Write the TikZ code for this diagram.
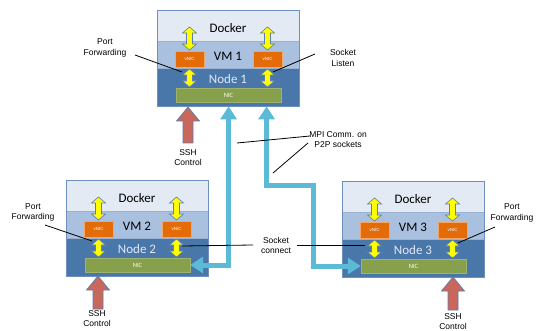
\documentclass[tikz,border=0pt]{standalone}
\usepackage{fontspec}
\setmainfont{Liberation Sans}
\newfontfamily\boxfont{Carlito}
\usetikzlibrary{arrows.meta,calc}
\definecolor{dockfill}{HTML}{E3EAF4}
\definecolor{vmfill}{HTML}{A9C0DE}
\definecolor{nodefill}{HTML}{4A77AA}
\definecolor{edgeblue}{HTML}{6E90BF}
\definecolor{nodetext}{HTML}{E0E8F4}
\definecolor{vnicfill}{HTML}{E36C09}
\definecolor{vnicedge}{HTML}{F2A66A}
\definecolor{nicfill}{HTML}{86A04B}
\definecolor{yellowarrow}{HTML}{FFFF00}
\definecolor{arrowedge}{HTML}{5B7FB0}
\definecolor{sshfill}{HTML}{C9675C}
\definecolor{connblue}{HTML}{5BBAD5}
\tikzset{
  band/.style={draw=edgeblue!70, line width=0.4pt, minimum width=142pt, inner sep=0pt},
  boxlabel/.style={font=\boxfont\fontsize{13}{14}\selectfont, inner sep=0pt},
  vnicbox/.style={draw=vnicedge, line width=0.5pt, fill=vnicfill, minimum width=29pt, minimum height=16pt, inner sep=0pt, font=\fontsize{4.5}{5}\selectfont, text=white},
  nicbox/.style={draw=nicfill!80!white, line width=0.4pt, fill=nicfill, minimum width=105pt, minimum height=13.5pt, inner sep=0pt, font=\boxfont\fontsize{6.5}{7}\selectfont, text=white},
  yarrow/.style={fill=yellowarrow, draw=arrowedge, line width=0.6pt, line join=miter},
  ssharrow/.style={fill=sshfill, draw=arrowedge, line width=0.7pt, line join=miter},
  conn/.style={draw=connblue, line width=5pt, {Triangle[length=13pt,width=16pt]}-{Triangle[length=13pt,width=16pt]}},
  note/.style={align=center, font=\fontsize{8.5}{10.5}\selectfont, inner sep=0pt},
  noteline/.style={draw=black, line width=0.8pt}
}
\newcommand\yellowdouble[3]{%
  \path[yarrow] (#1,#2) -- ++(7,6) -- ++(-4,0) -- (#1+3,#3-6) -- ++(4,0) -- (#1,#3) -- ++(-7,-6) -- ++(4,0) -- (#1-3,#2+6) -- ++(-4,0) -- cycle;}
\newcommand\sshshape[3]{%
  \path[ssharrow] (#1,#2) -- ++(11.5,14) -- ++(-6.5,0) -- (#1+5,#3) -- (#1-5,#3) -- (#1-5,#2+14) -- ++(-6.5,0) -- cycle;}
\newcommand\machine[4]{%
  \begin{scope}[shift={(#2,#3)}]
    \node[band, fill=dockfill, minimum height=31pt] (#1dock) at (71,15.5) {};
    \node[band, fill=vmfill, minimum height=27pt] (#1vm) at (71,44.5) {};
    \node[band, fill=nodefill, minimum height=38pt] (#1node) at (71,77) {};
    \node[draw=edgeblue, line width=0.8pt, minimum width=142pt, minimum height=96pt, inner sep=0pt] (#1box) at (71,48) {};
    \node[boxlabel] (#1docktext) at (71,18) {Docker};
    \node[boxlabel] (#1vmtext) at (71,46) {VM #4};
    \node[boxlabel, text=nodetext] (#1nodetext) at (71,69) {Node #4};
    \node[vnicbox] (#1vnicL) at (32.5,49) {vNIC};
    \node[vnicbox] (#1vnicR) at (110.5,49) {vNIC};
    \node[nicbox] (#1nic) at (71.5,85) {NIC};
    \yellowdouble{32.5}{17}{40}
    \yellowdouble{110.5}{17}{40}
    \yellowdouble{32.5}{59}{77}
    \yellowdouble{110.5}{59}{77}
  \end{scope}}
\begin{document}
\begin{tikzpicture}[x=1pt,y=-1pt]
  \useasboundingbox[fill=white] (0,0) rectangle (538,331);
  \machine{na}{157}{10}{1}
  \machine{nb}{66}{180}{2}
  \machine{nc}{342}{181}{3}

  % SSH control arrows
  \sshshape{188}{107}{143}
  \sshshape{98}{276}{309}
  \sshshape{453}{277}{310}
  \node[note] (ssha) at (188,157.5) {SSH\\Control};
  \node[note] (sshb) at (97,318.5) {SSH\\Control};
  \node[note] (sshc) at (453,321.5) {SSH\\Control};

  % MPI connectors
  \coordinate (bend) at (313,186);
  \draw[conn] ([xshift=72pt]nabox.south west) -- ([xshift=72pt]nabox.south west |- nbnic.east) -- (nbnic.east);
  \draw[conn] ([xshift=110pt]nabox.south west) |- (bend) |- (ncnic.west);

  % annotations
  \node[note] (pfa) at (105,48) {Port\\Forwarding};
  \coordinate (pfaS) at (135,55); \coordinate (pfaE) at (182,72);
  \draw[noteline] (pfaS) -- (pfaE);

  \node[note] (sl) at (343,58) {Socket\\Listen};
  \coordinate (slS) at (315,54); \coordinate (slE) at (273,72);
  \draw[noteline] (slS) -- (slE);

  \node[note] (mpi) at (338,139.5) {MPI Comm. on\\P2P sockets};
  \coordinate (mpiS1) at (310,136); \coordinate (mpiE1) at (237,143);
  \coordinate (mpiS2) at (308,143); \coordinate (mpiE2) at (273,173);
  \draw[noteline] (mpiS1) -- (mpiE1);
  \draw[noteline] (mpiS2) -- (mpiE2);

  \node[note] (sc) at (276,245.5) {Socket\\connect};
  \coordinate (scL1) at (253,245); \coordinate (scL2) at (182,246);
  \coordinate (scR1) at (297,245); \coordinate (scR2) at (365,245);
  \draw[noteline] (scL1) -- (scL2);
  \draw[noteline] (scR1) -- (scR2);

  \node[note] (pfb) at (33,212.5) {Port\\Forwarding};
  \coordinate (pfbS) at (45,225); \coordinate (pfbE) at (92,241);
  \draw[noteline] (pfbS) -- (pfbE);

  \node[note] (pfc) at (512,213) {Port\\Forwarding};
  \coordinate (pfcS) at (495,227); \coordinate (pfcE) at (458,243);
  \draw[noteline] (pfcS) -- (pfcE);
\end{tikzpicture}
\end{document}
